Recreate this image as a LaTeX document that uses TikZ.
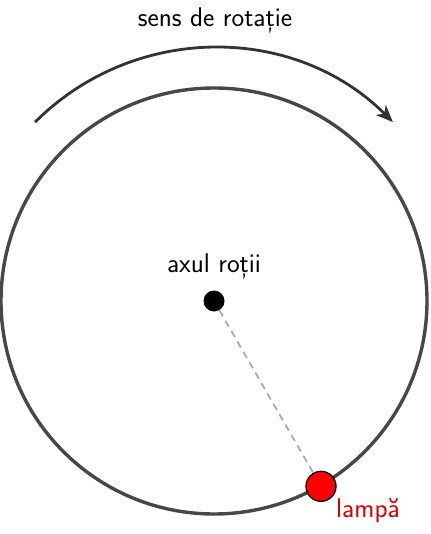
\documentclass[tikz,border=0pt]{standalone}
\usepackage{fontspec}
\usetikzlibrary{arrows.meta,calc}
\begin{document}
\begin{tikzpicture}[x=1pt,y=-1pt,
  lbl/.style={font=\fontsize{27}{32}\sffamily, inner sep=0pt},
  wheel/.style={draw=black!72, line width=3.4pt},
  rot/.style={draw=black!80, line width=2.8pt, -{Stealth[length=17pt,width=14pt,inset=5pt]}},
  spoke/.style={draw=black!33, line width=1.8pt, dash pattern=on 7pt off 5pt},
  axle/.style={circle, fill=black, minimum size=21pt, inner sep=0pt},
  lampbox/.style={circle, fill=red, draw=black, line width=1.3pt, minimum size=30pt, inner sep=0pt}]
\useasboundingbox (0,0) rectangle (430,534);
\coordinate (c) at (214,301);
\draw[wheel] (c) circle[radius=213];
\draw[rot] ($(c)+(-135:253)$) arc[start angle=-135, end angle=-45, radius=253];
\node[axle] (ax) at (c) {};
\node[lampbox] (lamp) at ($(c)+(60:214)$) {};
\draw[spoke] (ax) -- (lamp);
\node[lbl] (t1) at (215,20) {sens de rotație};
\node[lbl] (t2) at (214,266) {axul roții};
\node[lbl, text=red!85!black] (t3) at (368,511) {lampă};
\end{tikzpicture}
\end{document}
